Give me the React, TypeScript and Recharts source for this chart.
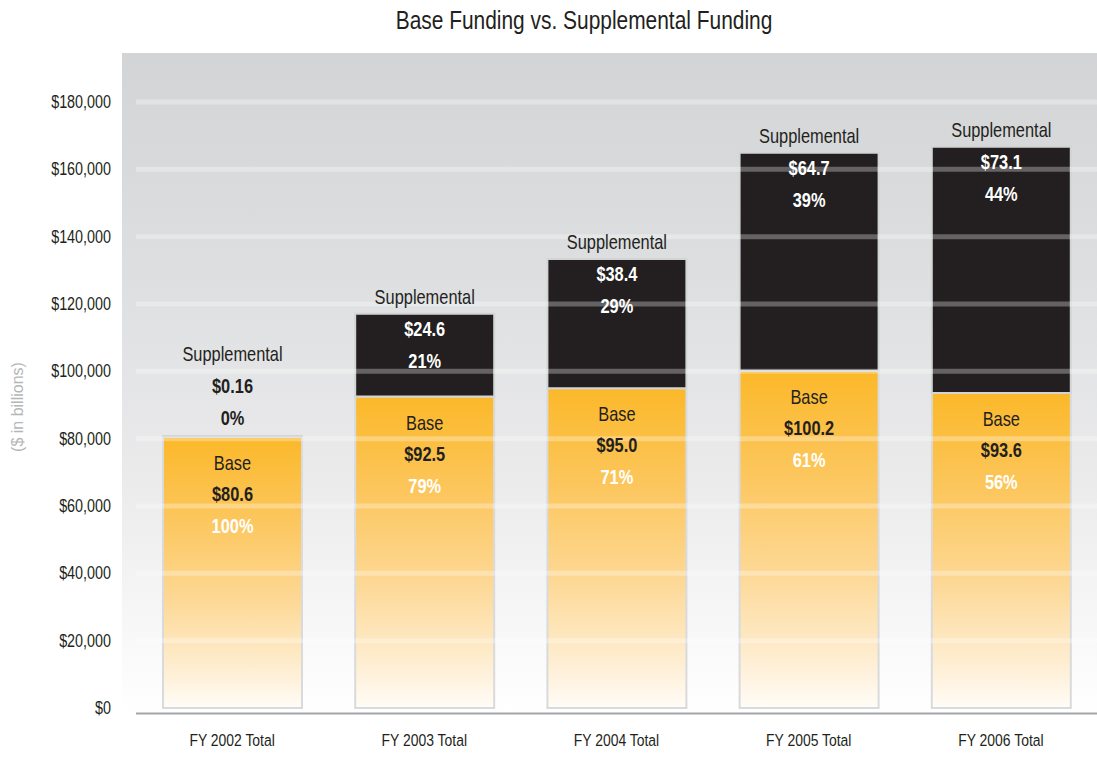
import React from 'react';
import {
  BarChart,
  Bar,
  XAxis,
  YAxis,
  ReferenceLine,
  LabelList,
} from 'recharts';

const categories = ['FY 2002 Total', 'FY 2003 Total', 'FY 2004 Total', 'FY 2005 Total', 'FY 2006 Total'];
const baseValues = [80600, 92500, 95000, 100200, 93600];
const supplementalValues = [160, 24600, 38400, 64700, 73100];
const basePercents = [100, 79, 71, 61, 56];
const supplementalPercents = [0, 21, 29, 39, 44];
const yTicks = [0, 20000, 40000, 60000, 80000, 100000, 120000, 140000, 160000, 180000];

const FONT = '"Liberation Sans", Arial, sans-serif';
const DARK = '#231f20';
const SQUEEZE = 0.82; // fake a condensed face by squeezing Liberation Sans

const data = categories.map((name, i) => ({
  name,
  base: baseValues[i],
  supplemental: supplementalValues[i],
}));

const formatBillions = (v: number) => {
  const b = v / 1000;
  return '$' + (b < 1 ? b.toFixed(2) : b.toFixed(1));
};

const formatTick = (v: number) => '$' + v.toLocaleString('en-US');

// text drawn at (x, y), horizontally squeezed around its anchor
const NarrowText = ({ x, y, children, anchor = 'middle', size = 20, bold = false, fill = DARK }: any) => (
  <text
    transform={`translate(${x},${y}) scale(${SQUEEZE},1)`}
    textAnchor={anchor}
    dominantBaseline="central"
    fontFamily={FONT}
    fontSize={size}
    fontWeight={bold ? 'bold' : 'normal'}
    fill={fill}
  >
    {children}
  </text>
);

const YTick = (props: any) => {
  const { x, y, payload } = props;
  return <NarrowText x={x} y={y} anchor="end" size={17.5}>{formatTick(payload.value)}</NarrowText>;
};

const XTick = (props: any) => {
  const { x, y, payload } = props;
  return <NarrowText x={x} y={y + 21} size={17}>{payload.value}</NarrowText>;
};

const BaseLabel = (props: any) => {
  const { x, y, width, index } = props;
  const cx = x + width / 2;
  return (
    <g>
      <NarrowText x={cx} y={y + 26}>Base</NarrowText>
      <NarrowText x={cx} y={y + 57} bold>{formatBillions(baseValues[index])}</NarrowText>
      <NarrowText x={cx} y={y + 89} bold fill="#ffffff">{basePercents[index]}%</NarrowText>
    </g>
  );
};

const SupplementalLabel = (props: any) => {
  const { x, y, width, height, index } = props;
  const cx = x + width / 2;
  const tiny = Math.abs(height) < 20;
  // tiny bars get their labels stacked above the bar
  const top = tiny ? y - 65 : y;
  const color = tiny ? DARK : '#ffffff';
  return (
    <g>
      <NarrowText x={cx} y={top - 17}>Supplemental</NarrowText>
      <NarrowText x={cx} y={top + 15} bold fill={color}>{formatBillions(supplementalValues[index])}</NarrowText>
      <NarrowText x={cx} y={top + 47} bold fill={color}>{supplementalPercents[index]}%</NarrowText>
    </g>
  );
};

export default function App() {
  return (
    <div style={{ position: 'absolute', left: 0, top: 0, width: 1097, height: 757, background: '#fff', fontFamily: FONT }}>
      {/* grey panel behind the plot */}
      <div
        style={{
          position: 'absolute',
          left: 122,
          top: 53,
          width: 975,
          height: 660,
          background: 'linear-gradient(to bottom, #d3d4d6 0%, #dedfe1 35%, #ebebec 65%, #f8f8f8 88%, #ffffff 100%)',
        }}
      />
      <div
        style={{
          position: 'absolute',
          left: 284,
          top: 5,
          width: 600,
          textAlign: 'center',
          fontSize: 25.5,
          color: DARK,
          lineHeight: '30px',
          whiteSpace: 'nowrap',
          transform: `scaleX(${SQUEEZE})`,
        }}
      >
        Base Funding vs. Supplemental Funding
      </div>
      <div
        style={{
          position: 'absolute',
          left: 18,
          top: 407,
          transform: 'translate(-50%, -50%) rotate(-90deg)',
          whiteSpace: 'nowrap',
          fontSize: 16,
          color: '#b5b6b8',
        }}
      >
        ($ in billions)
      </div>
      <div style={{ position: 'absolute', left: 0, top: 0 }}>
        <BarChart
          width={1097}
          height={757}
          data={data}
          margin={{ top: 102, right: 0, bottom: 0, left: 0 }}
          barSize={139}
        >
          <defs>
            <linearGradient id="baseGrad" x1="0" y1="0" x2="0" y2="1">
              <stop offset="0%" stopColor="#fbb829" />
              <stop offset="30%" stopColor="#fcc65c" />
              <stop offset="60%" stopColor="#fdd895" />
              <stop offset="85%" stopColor="#feedd0" />
              <stop offset="100%" stopColor="#fffcf7" />
            </linearGradient>
          </defs>
          <XAxis
            dataKey="name"
            height={43.6}
            axisLine={{ stroke: '#a3a5a8', strokeWidth: 2 }}
            tickLine={false}
            tickMargin={0}
            tick={<XTick />}
            interval={0}
          />
          <YAxis
            width={136}
            domain={[-1600, 180000]}
            ticks={yTicks}
            allowDataOverflow
            axisLine={false}
            tickLine={false}
            tickMargin={19}
            tick={<YTick />}
          />
          <Bar
            dataKey="base"
            stackId="a"
            fill="url(#baseGrad)"
            stroke="#d9dadc"
            strokeWidth={2}
            isAnimationActive={false}
          >
            <LabelList dataKey="base" content={BaseLabel} />
          </Bar>
          <Bar
            dataKey="supplemental"
            stackId="a"
            fill={DARK}
            stroke="#d3d4d6"
            strokeWidth={2}
            isAnimationActive={false}
          >
            <LabelList dataKey="supplemental" content={SupplementalLabel} />
          </Bar>
          {yTicks.slice(1).map((t) => (
            <ReferenceLine key={t} y={t} stroke="#ffffff" strokeOpacity={0.3} strokeWidth={5} />
          ))}
        </BarChart>
      </div>
    </div>
  );
}
